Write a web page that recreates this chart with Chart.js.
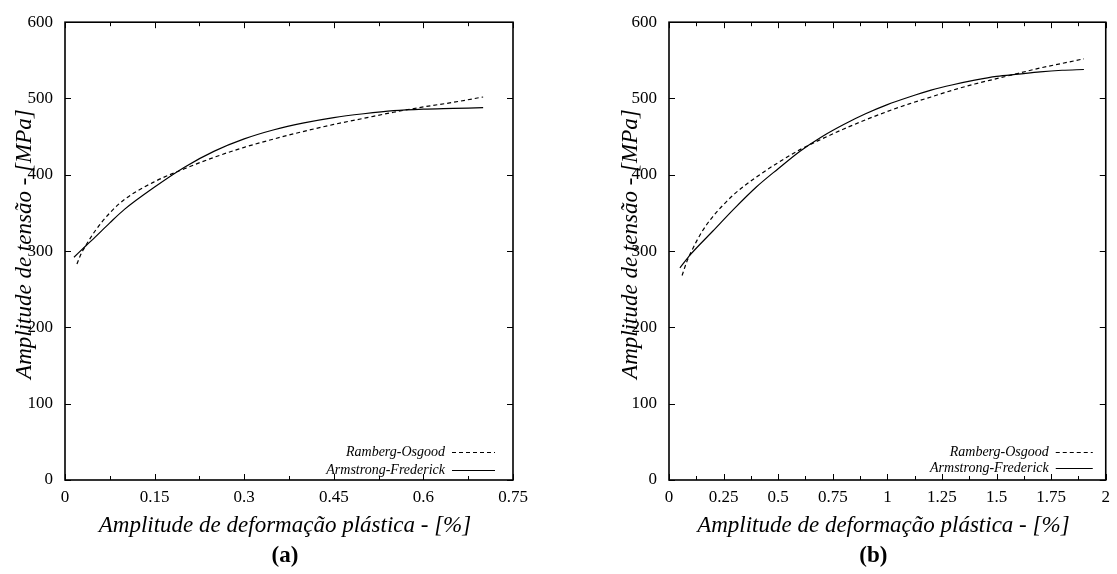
<!DOCTYPE html>
<html>
<head>
<meta charset="utf-8">
<script src="https://cdn.jsdelivr.net/npm/chart.js@4.4.0/dist/chart.umd.min.js"></script>
<style>
  body { margin: 0; background: #fff; width: 1117px; height: 574px; overflow: hidden; position: relative; }
  canvas { position: absolute; top: 0; }
  #chart-a { left: 0; }
  #chart-b { left: 600px; }
</style>
</head>
<body>
<canvas id="chart-a" width="600" height="574"></canvas>
<canvas id="chart-b" width="517" height="574"></canvas>
<script>
// Panel (a)
const epsA_RO = [0.02, 0.025, 0.03, 0.04, 0.05, 0.075, 0.1, 0.15, 0.2, 0.25, 0.3, 0.35, 0.4, 0.45, 0.5, 0.55, 0.6, 0.65, 0.7];
const sigA_RO = [283, 293, 301, 314, 326, 350, 368, 391, 408, 423, 436, 447, 457, 466, 474, 482, 489, 495, 502];
const epsA_AF = [0.015, 0.035, 0.05, 0.075, 0.1, 0.15, 0.2, 0.25, 0.3, 0.35, 0.4, 0.45, 0.5, 0.55, 0.6, 0.65, 0.7];
const sigA_AF = [292, 307, 318, 337, 355, 384, 410, 431, 447, 459, 468, 475, 480, 484, 486, 487, 488];
const xTicksA = [0, 0.15, 0.3, 0.45, 0.6, 0.75];

// Panel (b)
const epsB_RO = [0.06, 0.08, 0.1, 0.15, 0.2, 0.25, 0.3, 0.4, 0.5, 0.6, 0.7, 0.8, 0.9, 1.0, 1.1, 1.2, 1.3, 1.4, 1.5, 1.6, 1.7, 1.8, 1.9];
const sigB_RO = [268, 285, 298, 325, 345, 361, 375, 397, 416, 433, 447, 460, 472, 483, 493, 502, 511, 519, 526, 533, 540, 546, 552];
const epsB_AF = [0.05, 0.1, 0.2, 0.3, 0.4, 0.5, 0.6, 0.7, 0.8, 0.9, 1.0, 1.1, 1.2, 1.3, 1.4, 1.5, 1.6, 1.7, 1.8, 1.9];
const sigB_AF = [278, 296, 326, 356, 384, 408, 431, 450, 466, 480, 492, 502, 511, 518, 524, 529, 532, 535, 537, 538];
const xTicksB = [0, 0.25, 0.5, 0.75, 1, 1.25, 1.5, 1.75, 2];

const yTicks = [0, 100, 200, 300, 400, 500, 600];

const labelRO = 'Ramberg-Osgood';
const labelAF = 'Armstrong-Frederick';
const xTitle = 'Amplitude de deformação plástica - [%]';
const yTitle = 'Amplitude de tensão - [MPa]';

const SERIF = '"Liberation Serif", "Times New Roman", serif';

function pts(xs, ys) {
  return xs.map((x, i) => ({ x, y: ys[i] }));
}

// gnuplot-like frame: box, inward ticks, legend, titles
const framePlugin = {
  id: 'frame',
  afterDatasetsDraw(chart, args, opts) {
    const { ctx, chartArea: a, scales: { x, y } } = chart;
    ctx.save();
    ctx.strokeStyle = '#000';
    ctx.lineWidth = 1;
    ctx.beginPath();
    x.ticks.forEach((t, i) => {
      const px = Math.round(x.getPixelForValue(t.value)) + 0.5;
      ctx.moveTo(px, a.bottom); ctx.lineTo(px, a.bottom - 6);
      ctx.moveTo(px, a.top); ctx.lineTo(px, a.top + 6);
      if (i < x.ticks.length - 1) {
        const pm = Math.round(x.getPixelForValue((t.value + x.ticks[i + 1].value) / 2)) + 0.5;
        ctx.moveTo(pm, a.bottom); ctx.lineTo(pm, a.bottom - 4);
        ctx.moveTo(pm, a.top); ctx.lineTo(pm, a.top + 4);
      }
    });
    y.ticks.forEach((t) => {
      const py = Math.round(y.getPixelForValue(t.value)) + 0.5;
      ctx.moveTo(a.left, py); ctx.lineTo(a.left + 6, py);
      ctx.moveTo(a.right, py); ctx.lineTo(a.right - 6, py);
    });
    ctx.stroke();

    ctx.lineWidth = 1.6;
    ctx.strokeRect(a.left, a.top, a.width, a.height);

    // legend, bottom right inside the box
    ctx.fillStyle = '#000';
    ctx.font = 'italic 14px ' + SERIF;
    ctx.textAlign = 'right';
    ctx.textBaseline = 'middle';
    chart.data.datasets.forEach((ds, i) => {
      const ly = opts.legendY[i];
      const sx1 = a.right - opts.sampleEnd;
      const sx0 = sx1 - opts.sampleLen;
      ctx.fillText(ds.label, sx0 - 7, ly);
      ctx.beginPath();
      ctx.lineWidth = 1.2;
      ctx.setLineDash(ds.borderDash || []);
      ctx.moveTo(sx0, ly + 0.5); ctx.lineTo(sx1, ly + 0.5);
      ctx.stroke();
      ctx.setLineDash([]);
    });

    // axis titles and panel label
    const cx = (a.left + a.right) / 2;
    ctx.textAlign = 'center';
    ctx.font = 'italic 23px ' + SERIF;
    ctx.fillText(xTitle, cx - 4, 526);
    ctx.save();
    ctx.translate(opts.yTitleX, (a.top + a.bottom) / 2 - 7);
    ctx.rotate(-Math.PI / 2);
    ctx.fillText(yTitle, 0, 0);
    ctx.restore();
    ctx.font = 'bold 23px ' + SERIF;
    ctx.fillText(opts.panel, cx + opts.panelShift, 556);
    ctx.restore();
  }
};

function makeChart(id, ro, af, xMax, xTicks, cfg) {
  return new Chart(document.getElementById(id), {
    type: 'line',
    data: {
      datasets: [
        {
          label: labelRO,
          data: ro,
          borderColor: '#000',
          borderWidth: 1.2,
          borderDash: [4, 3],
          pointRadius: 0,
          cubicInterpolationMode: 'monotone',
        },
        {
          label: labelAF,
          data: af,
          borderColor: '#000',
          borderWidth: 1.2,
          pointRadius: 0,
          cubicInterpolationMode: 'monotone',
        },
      ],
    },
    options: {
      responsive: false,
      animation: false,
      layout: { padding: { top: 15, right: cfg.padRight, left: 0, bottom: 0 } },
      plugins: {
        legend: { display: false },
        tooltip: { enabled: false },
        frame: cfg.frame,
      },
      scales: {
        x: {
          type: 'linear',
          min: 0,
          max: xMax,
          afterBuildTicks: (scale) => { scale.ticks = xTicks.map((v) => ({ value: v })); },
          afterFit: (scale) => { scale.height = 94; },
          grid: { display: false, drawTicks: false },
          border: { display: false },
          ticks: {
            color: '#000',
            font: { family: SERIF, size: 17 },
            padding: 7,
            maxRotation: 0,
            autoSkip: false,
            callback: (v) => String(v),
          },
        },
        y: {
          type: 'linear',
          min: 0,
          max: 600,
          afterBuildTicks: (scale) => { scale.ticks = yTicks.map((v) => ({ value: v })); },
          afterFit: (scale) => { scale.width = cfg.yWidth; },
          grid: { display: false, drawTicks: false },
          border: { display: false },
          ticks: {
            color: '#000',
            font: { family: SERIF, size: 17 },
            padding: 12,
            callback: (v) => String(v),
          },
        },
      },
    },
    plugins: [framePlugin],
  });
}

makeChart('chart-a', pts(epsA_RO, sigA_RO), pts(epsA_AF, sigA_AF), 0.75, xTicksA, {
  padRight: 87,
  yWidth: 65,
  frame: { legendY: [452, 470], sampleEnd: 18, sampleLen: 43, yTitleX: 25, panel: '(a)', panelShift: -4 },
});

makeChart('chart-b', pts(epsB_RO, sigB_RO), pts(epsB_AF, sigB_AF), 2, xTicksB, {
  padRight: 5,
  yWidth: 69,
  frame: { legendY: [452, 468], sampleEnd: 13, sampleLen: 37, yTitleX: 31, panel: '(b)', panelShift: -14 },
});
</script>
</body>
</html>
